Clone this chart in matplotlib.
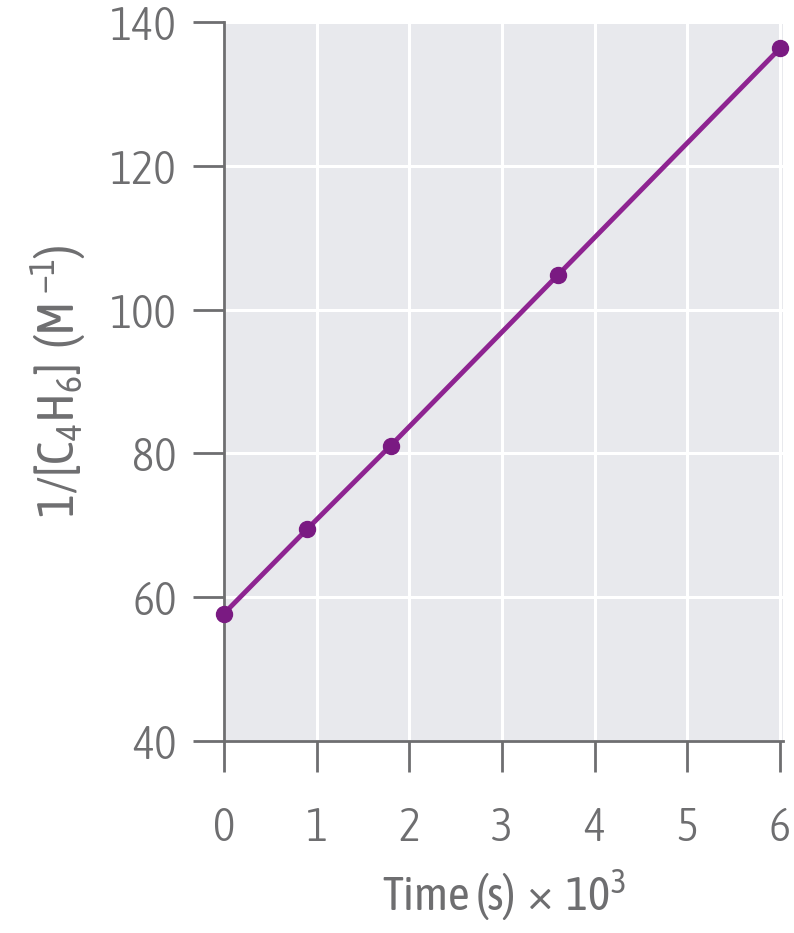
import matplotlib
matplotlib.use("Agg")
import matplotlib.pyplot as plt

FONT = ["Asap Condensed", "Archivo Narrow", "DejaVu Sans"]
plt.rcParams["font.family"] = FONT
plt.rcParams["font.weight"] = 300
plt.rcParams["mathtext.fontset"] = "custom"
plt.rcParams["mathtext.rm"] = "Asap Condensed:light"
plt.rcParams["mathtext.it"] = "Asap Condensed:light"
plt.rcParams["mathtext.default"] = "regular"

time_ks = [0, 0.9, 1.8, 3.6, 6.0]
inv_conc = [57.7, 69.5, 81.1, 104.8, 136.4]
x_ticks = [0, 1, 2, 3, 4, 5, 6]
y_ticks = [40, 60, 80, 100, 120, 140]

GRAY = "#6e6e70"
PURPLE = "#8e2491"

fig = plt.figure(figsize=(7.94, 9.33), dpi=100)
ax = fig.add_axes([0.282, 0.206, 0.704, 0.77])
ax.set_facecolor("#e8e9ed")

ax.plot(time_ks, inv_conc, "-", color=PURPLE, lw=3.5, zorder=3)
ax.plot(time_ks, inv_conc, "o", color="#7a1a82", ms=11.5, zorder=4, clip_on=False)

ax.set_xlim(0, 6.03)
ax.set_ylim(40, 140)
ax.set_xticks(x_ticks)
ax.set_yticks(y_ticks)
ax.grid(True, color="white", lw=2.2)
ax.set_axisbelow(True)

for s in ["top", "right"]:
    ax.spines[s].set_visible(False)
for s in ["left", "bottom"]:
    ax.spines[s].set_color(GRAY)
    ax.spines[s].set_linewidth(2)

ax.tick_params(axis="both", direction="out", length=22, width=2, color=GRAY,
               labelcolor=GRAY, labelsize=34)
ax.tick_params(axis="y", pad=12)
ax.tick_params(axis="x", pad=24)

ax.set_xlabel("Time (s)  \u00d7  10$^3$", fontsize=34, color=GRAY, labelpad=12)
ax.set_ylabel("1/[C$_4$H$_6$]  (M $^{-1}$)", fontsize=37, color=GRAY, labelpad=16)

fig.savefig("out.png", dpi=100)
